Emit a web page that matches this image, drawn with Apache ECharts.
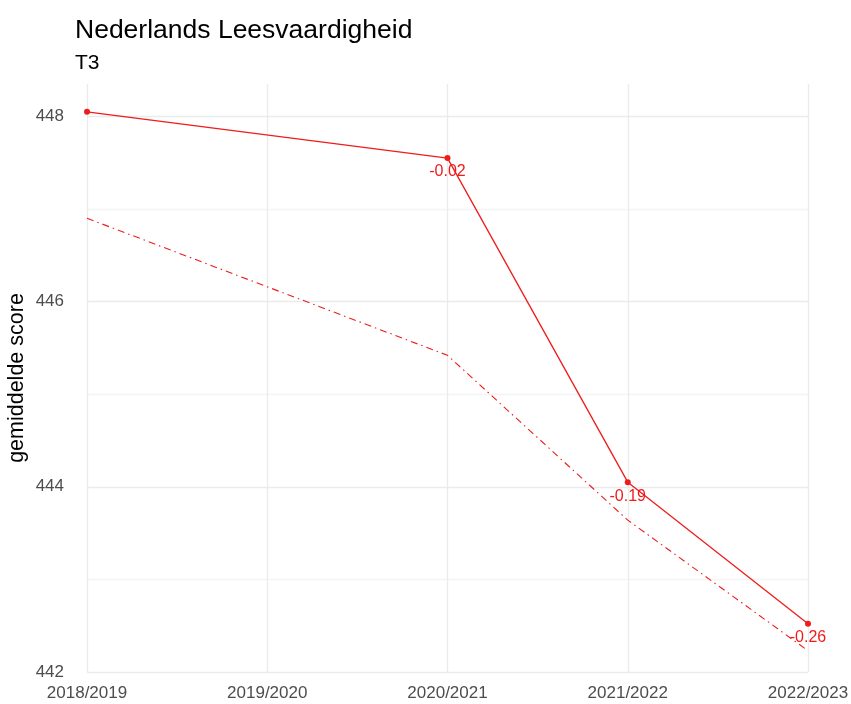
<!DOCTYPE html>
<html>
<head>
<meta charset="utf-8">
<script src="https://cdn.jsdelivr.net/npm/echarts@6/dist/echarts.min.js"></script>
<style>
  html, body { margin: 0; padding: 0; background: #fff; }
  #chart { width: 851px; height: 704px; }
</style>
</head>
<body>
<div id="chart"></div>
<script>
// schooljaren op de x-as
const years = ['2018/2019', '2019/2020', '2020/2021', '2021/2022', '2022/2023'];
// gemiddelde score (doorgetrokken lijn), geen meting in 2019/2020
const scores = [448.05, null, 447.55, 444.05, 442.52];
// referentielijn (streep-punt)
const reference = [446.90, null, 445.42, 443.64, 442.23];
// effectgroottes onder de punten
const effects = ['', '', '-0.02', '-0.19', '-0.26'];

const font = 'Liberation Sans, Arial, sans-serif';
const red = '#ee1c1c';
const major = '#ebebeb';
const minor = '#f4f4f4';

const chart = echarts.init(document.getElementById('chart'));

const option = {
  animation: false,
  backgroundColor: '#fff',
  title: {
    text: 'Nederlands Leesvaardigheid',
    subtext: 'T3',
    left: 70,
    top: 12,
    itemGap: 9,
    textStyle: { fontFamily: font, fontSize: 26.5, fontWeight: 'normal', color: '#000' },
    subtextStyle: { fontFamily: font, fontSize: 21, color: '#000' }
  },
  grid: { left: 87, right: 43, top: 84, bottom: 32, outerBoundsMode: 'none' },
  xAxis: {
    type: 'category',
    data: years,
    boundaryGap: false,
    axisLine: { show: false },
    axisTick: { show: false },
    axisLabel: { color: '#4d4d4d', fontFamily: font, fontSize: 17, margin: 13 },
    splitLine: { show: true, lineStyle: { color: major, width: 1.3 } }
  },
  yAxis: {
    type: 'value',
    min: 442,
    max: 448.35,
    interval: 1,
    name: 'gemiddelde score',
    nameLocation: 'middle',
    nameGap: 59,
    nameMoveOverlap: false,
    nameTextStyle: { fontFamily: font, fontSize: 21.5, color: '#000' },
    axisLine: { show: false },
    axisTick: { show: false },
    axisLabel: {
      color: '#4d4d4d', fontFamily: font, fontSize: 17, margin: 23,
      formatter: v => (v % 2 === 0 ? String(v) : '')
    },
    splitLine: {
      show: true,
      lineStyle: {
        color: [major, minor, major, minor, major, minor, major, 'rgba(0,0,0,0)'],
        width: 1.3
      }
    }
  },
  series: [
    {
      name: 'score',
      type: 'line',
      data: scores,
      connectNulls: true,
      clip: false,
      symbol: 'circle',
      symbolSize: 6,
      itemStyle: { color: red },
      lineStyle: { color: red, width: 1.3 },
      label: {
        show: true,
        position: 'bottom',
        distance: 3,
        color: red,
        fontFamily: font,
        fontSize: 16,
        formatter: p => effects[p.dataIndex]
      },
      z: 3
    },
    {
      name: 'referentie',
      type: 'line',
      data: reference,
      connectNulls: true,
      showSymbol: false,
      lineStyle: { color: red, width: 1.1, type: [7, 4, 1.5, 4] },
      z: 2
    }
  ]
};

chart.setOption(option);
</script>
</body>
</html>
